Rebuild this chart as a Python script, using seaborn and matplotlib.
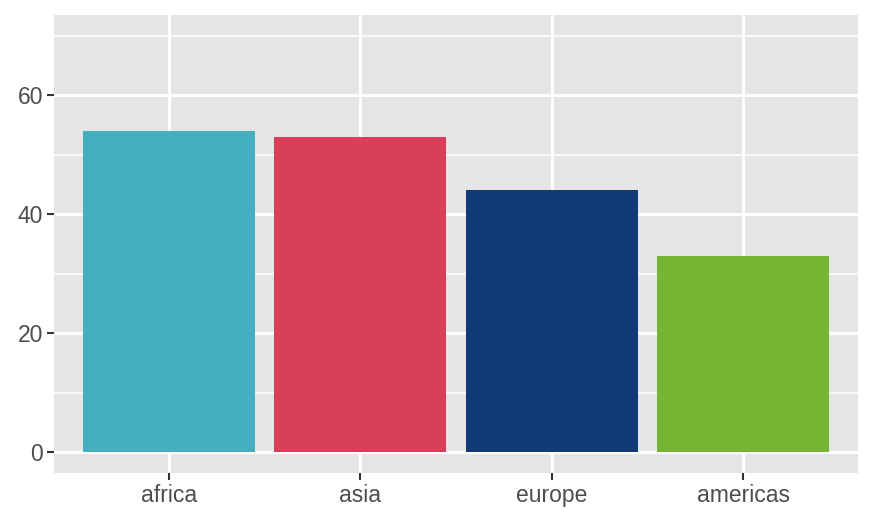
import seaborn as sns
import matplotlib.pyplot as plt
import pandas as pd

# Data
regions = ['africa', 'asia', 'europe', 'americas']
counts = [54, 53, 44, 33]
bar_colors = ['#43AFBF', '#D83F58', '#133A78', '#76B534']

df = pd.DataFrame({'region': regions, 'count': counts})

sns.set_theme(style='darkgrid', rc={
    'axes.facecolor': '#E5E5E5',
    'grid.color': 'white',
})
plt.rcParams['font.family'] = ['Liberation Sans', 'DejaVu Sans']

fig = plt.figure(figsize=(8.73, 5.24), dpi=100)
ax = fig.add_axes([54 / 873, 1 - 473 / 524, 804 / 873, 458 / 524])

sns.barplot(data=df, x='region', y='count', hue='region', palette=bar_colors,
            width=0.9, saturation=1, linewidth=0, legend=False, ax=ax)

ax.set_xlim(-0.6, 3.6)
ax.set_ylim(-3.5, 73.5)
ax.set_yticks([0, 20, 40, 60])
ax.set_yticks([10, 30, 50, 70], minor=True)
ax.grid(which='major', color='white', linewidth=2.2)
ax.grid(which='minor', axis='y', color='white', linewidth=1.1)
ax.set_axisbelow(True)
for s in ax.spines.values():
    s.set_visible(False)
ax.set_xlabel('')
ax.set_ylabel('')
ax.tick_params(axis='both', which='major', bottom=True, left=True,
               length=5, width=1.5, color='#333333',
               labelcolor='#4D4D4D', labelsize=16.5, pad=3)
ax.tick_params(axis='y', which='minor', length=0)

fig.savefig('out.png', dpi=100)
